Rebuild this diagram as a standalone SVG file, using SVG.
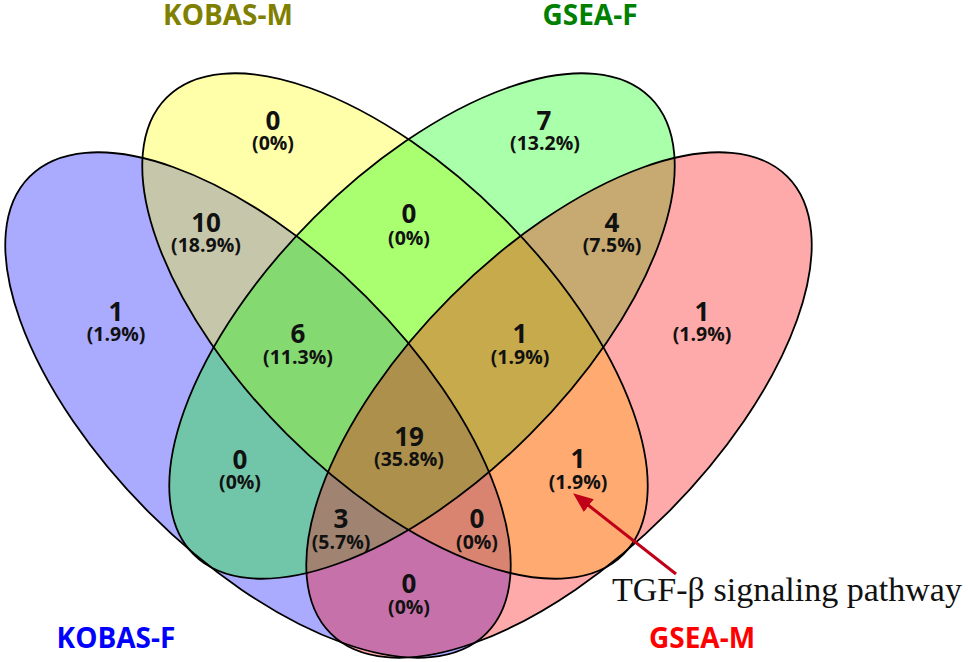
<svg xmlns="http://www.w3.org/2000/svg" width="968" height="662" viewBox="0 0 968 662">
<style>
.set{fill-opacity:0.3333;stroke:none}
.edge{fill:none;stroke:#000;stroke-width:1.8}
.n{font-family:"Open Sans","DejaVu Sans",sans-serif;font-weight:bold;font-size:26px;fill:#111;text-anchor:middle}
.p{font-family:"Open Sans","DejaVu Sans",sans-serif;font-weight:bold;font-size:19.5px;fill:#111;text-anchor:middle}
.cat{font-family:"Open Sans","DejaVu Sans",sans-serif;font-weight:bold;font-size:28px;text-anchor:middle}
.note{font-family:"Liberation Serif","Times New Roman",serif;font-size:33px;fill:#111}
</style>
<defs>
<marker id="ah" markerUnits="userSpaceOnUse" markerWidth="22" markerHeight="18" refX="1" refY="8" orient="auto">
<path d="M0,0 L20,8 L0,16 z" fill="#C00018"/>
</marker>
</defs>
<rect width="968" height="662" fill="#fff"/>
<g id="fills">
<ellipse id="set-kobas-f" class="set" cx="0" cy="0" rx="323" ry="153" fill="#0000FF" transform="translate(258,405) rotate(45)"/>
<ellipse id="set-kobas-m" class="set" cx="0" cy="0" rx="323" ry="153" fill="#FFFF00" transform="translate(395,326) rotate(45)"/>
<ellipse id="set-gsea-f" class="set" cx="0" cy="0" rx="323" ry="153" fill="#00FF00" transform="translate(422,326) rotate(-45)"/>
<ellipse id="set-gsea-m" class="set" cx="0" cy="0" rx="323" ry="153" fill="#FF0000" transform="translate(559,405) rotate(-45)"/>
</g>
<g id="outlines">
<ellipse class="edge" cx="0" cy="0" rx="323" ry="153" transform="translate(258,405) rotate(45)"/>
<ellipse class="edge" cx="0" cy="0" rx="323" ry="153" transform="translate(395,326) rotate(45)"/>
<ellipse class="edge" cx="0" cy="0" rx="323" ry="153" transform="translate(422,326) rotate(-45)"/>
<ellipse class="edge" cx="0" cy="0" rx="323" ry="153" transform="translate(559,405) rotate(-45)"/>
</g>
<g id="set-labels">
<text class="cat" x="228" y="25" fill="#808000">KOBAS-M</text>
<text class="cat" x="590" y="25" fill="#008000">GSEA-F</text>
<text class="cat" x="116" y="648" fill="#0000FF">KOBAS-F</text>
<text class="cat" x="702" y="648" fill="#FF0000">GSEA-M</text>
</g>
<g id="region-b"><text class="n" x="273" y="130">0</text><text class="p" x="273" y="150">(0%)</text></g>
<g id="region-c"><text class="n" x="544" y="130">7</text><text class="p" x="545" y="150">(13.2%)</text></g>
<g id="region-ab"><text class="n" x="206" y="232">10</text><text class="p" x="206" y="252">(18.9%)</text></g>
<g id="region-bc"><text class="n" x="409" y="223">0</text><text class="p" x="409" y="245">(0%)</text></g>
<g id="region-cd"><text class="n" x="612" y="232">4</text><text class="p" x="612" y="252">(7.5%)</text></g>
<g id="region-a"><text class="n" x="116" y="321">1</text><text class="p" x="116" y="341">(1.9%)</text></g>
<g id="region-d"><text class="n" x="702" y="321">1</text><text class="p" x="702" y="341">(1.9%)</text></g>
<g id="region-abc"><text class="n" x="298" y="343">6</text><text class="p" x="298" y="364">(11.3%)</text></g>
<g id="region-bcd"><text class="n" x="520" y="343">1</text><text class="p" x="520" y="364">(1.9%)</text></g>
<g id="region-abcd"><text class="n" x="409" y="446">19</text><text class="p" x="409" y="466">(35.8%)</text></g>
<g id="region-ac"><text class="n" x="240" y="469">0</text><text class="p" x="240" y="489">(0%)</text></g>
<g id="region-bd"><text class="n" x="578" y="468">1</text><text class="p" x="578" y="489">(1.9%)</text></g>
<g id="region-acd"><text class="n" x="341" y="528">3</text><text class="p" x="341" y="549">(5.7%)</text></g>
<g id="region-abd"><text class="n" x="477" y="528">0</text><text class="p" x="477" y="549">(0%)</text></g>
<g id="region-ad"><text class="n" x="409" y="593">0</text><text class="p" x="409" y="614">(0%)</text></g>
<g id="connectors">
<line x1="676" y1="574" x2="588" y2="505" stroke="#C00018" stroke-width="3" marker-end="url(#ah)"/>
</g>
<g id="annotation">
<text class="note" x="612" y="601" textLength="350" lengthAdjust="spacingAndGlyphs">TGF-β signaling pathway</text>
</g>
</svg>
